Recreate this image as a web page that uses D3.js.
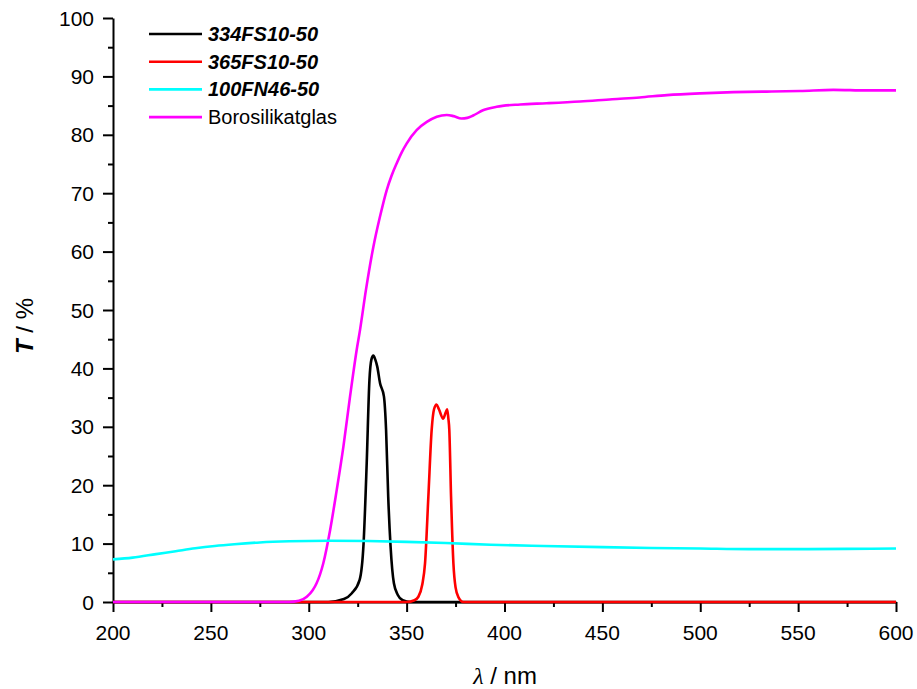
<!DOCTYPE html>
<html>
<head>
<meta charset="utf-8">
<script src="https://cdn.jsdelivr.net/npm/d3@7"></script>
<style>
  html, body { margin: 0; padding: 0; background: #fff; }
  svg { display: block; font-family: "Liberation Sans", Arial, sans-serif; }
</style>
</head>
<body>
<svg id="chart" width="917" height="689"></svg>
<script>
// Transmission spectra: wavelength (nm) and transmittance T (%)
const wl334 = [200, 310, 318, 322, 326, 328, 329.6, 331, 332, 333, 334, 335, 336.4, 338.4, 339.5, 340.6, 341.8, 343.5, 345.5, 348, 352, 600];
const t334  = [0,   0,   0.5, 1.5, 3.8, 10,  23.7,  38,  41.5, 42.2, 41.5, 40.3, 37.5, 35.2, 29.5, 18,  9.5,  3.2,  1.2,  0.3, 0,   0];

const wl365 = [200, 350, 354, 356, 358, 359.4, 361.1, 362.8, 364, 365.3, 366.5, 368.7, 370, 370.7, 371.3, 371.8, 372.7, 373.9, 375, 376.5, 379, 600];
const t365  = [0,   0,   0.3, 0.9, 3,   6.6,   18,    29.5,  33,  33.8,  33,    31.4,  32.5, 33,  31.5,  29.5,  18,    6.6,   2.5, 0.8,   0,   0];

const wl100 = [200, 210, 222, 232, 242, 252, 262, 275, 290, 310, 330, 350, 370, 393, 420, 450, 475, 500, 525, 550, 575, 600];
const t100  = [7.3, 7.6, 8.2, 8.7, 9.2, 9.6, 9.9, 10.2, 10.4, 10.5, 10.45, 10.3, 10.1, 9.8, 9.6, 9.4, 9.25, 9.15, 9.05, 9.05, 9.1, 9.15];

const wlBoro = [200, 290, 295, 299, 302, 304, 307.4, 310.9, 314.3, 317.7, 321.1, 324.5, 326.2, 329.2, 333, 336.4, 339.8, 342.3, 344.9, 347.5, 350, 355.1, 360.3, 365.4, 370.5, 374, 378, 381, 384, 389, 396, 408, 421.5, 438.6, 455, 469, 483, 500, 517, 534, 551, 568, 585, 600];
const tBoro  = [0,   0,   0.2, 0.9, 2,   3.2, 6.6,   12.3,  19.2,  26.6,  35.2,  43.2,  46.6,  53.4,  60.8, 66,  70.5,  73.0,  75.1,  77.0,  78.5, 80.8,  82.2,  83.1,  83.4,  83.2, 82.8, 82.9, 83.3, 84.2, 84.8, 85.2, 85.4, 85.7, 86.1, 86.4, 86.8, 87.1, 87.3, 87.4, 87.5, 87.7, 87.6, 87.6];

const seriesNames  = ["334FS10-50", "365FS10-50", "100FN46-50", "Borosilikatglas"];
const seriesColors = ["#000000", "#ff0000", "#00ffff", "#ff00ff"];
const seriesItalic = [true, true, true, false];

const xTicks = [200, 250, 300, 350, 400, 450, 500, 550, 600];
const yTicks = [0, 10, 20, 30, 40, 50, 60, 70, 80, 90, 100];

const series = [
  { wl: wl334, t: t334 },
  { wl: wl365, t: t365 },
  { wl: wl100, t: t100 },
  { wl: wlBoro, t: tBoro }
].map((s, i) => ({
  name: seriesNames[i],
  color: seriesColors[i],
  italic: seriesItalic[i],
  points: s.wl.map((w, j) => [w, s.t[j]])
}));

const svg = d3.select("#chart");
const plotLeft = 113, plotRight = 896, plotTop = 18, plotBottom = 602;

const x = d3.scaleLinear().domain([200, 600]).range([plotLeft, plotRight]);
const y = d3.scaleLinear().domain([0, 100]).range([plotBottom, plotTop]);

// axes (drawn first so the curves lie over the baseline)
const tickFont = "21px";

const xAxis = svg.append("g").attr("transform", `translate(0,${plotBottom})`);
xAxis.call(d3.axisBottom(x).tickValues(d3.range(200, 601, 25)).tickFormat("").tickSize(5).tickSizeOuter(0));
xAxis.call(g2 => g2.selectAll(".tick line").filter(d => d % 50 === 0).attr("y2", 10));
xAxis.select(".domain").attr("stroke-width", 2);
xAxis.selectAll(".tick line").attr("stroke-width", 2);
xAxis.selectAll(".xlab")
  .data(xTicks)
  .join("text")
  .attr("class", "xlab")
  .attr("x", d => x(d))
  .attr("y", 38)
  .attr("text-anchor", "middle")
  .attr("fill", "#000")
  .style("font-size", tickFont)
  .text(d => d);

const yAxis = svg.append("g").attr("transform", `translate(${plotLeft},0)`);
yAxis.call(d3.axisLeft(y).tickValues(d3.range(0, 101, 5)).tickFormat("").tickSize(5).tickSizeOuter(0));
yAxis.call(g2 => g2.selectAll(".tick line").filter(d => d % 10 === 0).attr("x2", -10));
yAxis.select(".domain").attr("stroke-width", 2);
yAxis.selectAll(".tick line").attr("stroke-width", 2);
yAxis.selectAll(".ylab")
  .data(yTicks)
  .join("text")
  .attr("class", "ylab")
  .attr("x", -19)
  .attr("y", d => y(d) + 7.5)
  .attr("text-anchor", "end")
  .attr("fill", "#000")
  .style("font-size", tickFont)
  .text(d => d);

// curves: filters first, glass, then the neutral-density filter on top
const line = d3.line()
  .x(d => x(d[0]))
  .y(d => y(d[1]))
  .curve(d3.curveMonotoneX);

const drawOrder = [0, 1, 3, 2];
svg.append("g")
  .selectAll("path")
  .data(drawOrder.map(i => series[i]))
  .join("path")
  .attr("d", d => line(d.points))
  .attr("fill", "none")
  .attr("stroke", d => d.color)
  .attr("stroke-width", 2.6)
  .attr("stroke-linejoin", "round");

// axis titles
const xTitle = svg.append("text")
  .attr("x", 505)
  .attr("y", 684)
  .attr("text-anchor", "middle")
  .style("font-size", "24px");
xTitle.append("tspan")
  .style("font-family", "'Liberation Serif', 'Times New Roman', serif")
  .style("font-style", "italic")
  .text("λ");
xTitle.append("tspan").text(" / nm");

const yTitle = svg.append("text")
  .attr("transform", "translate(33,326) rotate(-90)")
  .attr("text-anchor", "middle")
  .style("font-size", "24px");
yTitle.append("tspan")
  .style("font-weight", "bold")
  .style("font-style", "italic")
  .text("T");
yTitle.append("tspan").text(" / %");

// legend
const legend = svg.append("g").attr("transform", "translate(149,34)");
const item = legend.selectAll("g")
  .data(series)
  .join("g")
  .attr("transform", (d, i) => `translate(0,${i * 27.7})`);
item.append("line")
  .attr("x1", 0).attr("x2", 53)
  .attr("stroke", d => d.color)
  .attr("stroke-width", 2.6);
item.append("text")
  .attr("x", 59)
  .attr("y", 7)
  .style("font-size", "20px")
  .style("font-weight", d => d.italic ? "bold" : "normal")
  .style("font-style", d => d.italic ? "italic" : "normal")
  .text(d => d.name);
</script>
</body>
</html>
